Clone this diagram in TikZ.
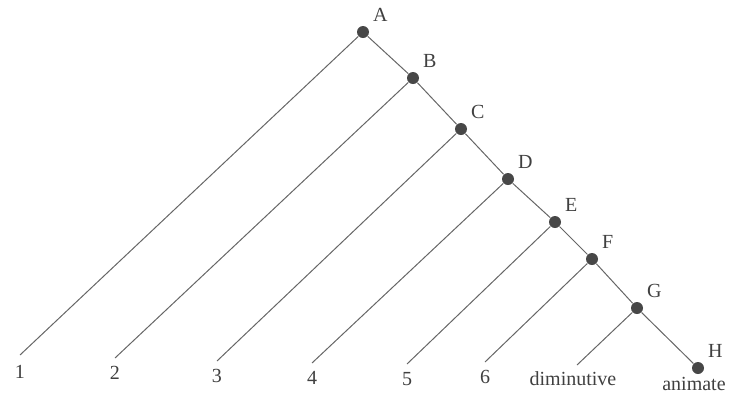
\documentclass[tikz,border=0pt]{standalone}
\usepackage{fontspec}
\setmainfont{Liberation Serif}
\usetikzlibrary{positioning}

\begin{document}
\begin{tikzpicture}[x=0.5pt, y=-0.5pt, font=\fontsize{10}{12}\selectfont,
    dot/.style={circle, fill=black!72, inner sep=0pt, minimum size=6pt},
    br/.style={draw=black!60, line width=0.5pt},
    lbl/.style={text=black!75, inner sep=1.5pt, label distance=1.5pt},
    leaf/.style={text=black!75, inner sep=1pt}]
  \useasboundingbox (0,0) rectangle (730,397);
  % internal nodes of the tree
  \node[dot, label={[lbl]above right:A}] (A) at (363,32) {};
  \node[dot, label={[lbl]above right:B}] (B) at (413,78) {};
  \node[dot, label={[lbl]above right:C}] (C) at (461,129) {};
  \node[dot, label={[lbl]above right:D}] (D) at (508,179) {};
  \node[dot, label={[lbl]above right:E}] (E) at (555,222) {};
  \node[dot, label={[lbl]above right:F}] (F) at (592,259) {};
  \node[dot, label={[lbl]above right:G}] (G) at (637,308) {};
  \node[dot, label={[lbl]above right:H}] (H) at (698,368) {};
  % free ends of the left branches
  \coordinate (e1) at (20,355);
  \coordinate (e2) at (115,358);
  \coordinate (e3) at (217,361);
  \coordinate (e4) at (312,363);
  \coordinate (e5) at (407,364);
  \coordinate (e6) at (485,362);
  \coordinate (e7) at (577,365);
  \node[leaf, below=4pt of e1] (l1) {1};
  \node[leaf, below=3pt of e2] (l2) {2};
  \node[leaf, below=3pt of e3] (l3) {3};
  \node[leaf, below=3pt of e4] (l4) {4};
  \node[leaf, below=3pt of e5] (l5) {5};
  \node[leaf, below=3pt of e6] (l6) {6};
  \node[leaf, below=2pt of e7, xshift=-2pt] (l7) {diminutive};
  \node[leaf, below=0pt of H, xshift=-2pt] (l8) {animate};
  % spine and branches
  \draw[br] (A) -- (B) -- (C) -- (D) -- (E) -- (F) -- (G) -- (H);
  \draw[br] (A) -- (e1);
  \draw[br] (B) -- (e2);
  \draw[br] (C) -- (e3);
  \draw[br] (D) -- (e4);
  \draw[br] (E) -- (e5);
  \draw[br] (F) -- (e6);
  \draw[br] (G) -- (e7);
\end{tikzpicture}
\end{document}
